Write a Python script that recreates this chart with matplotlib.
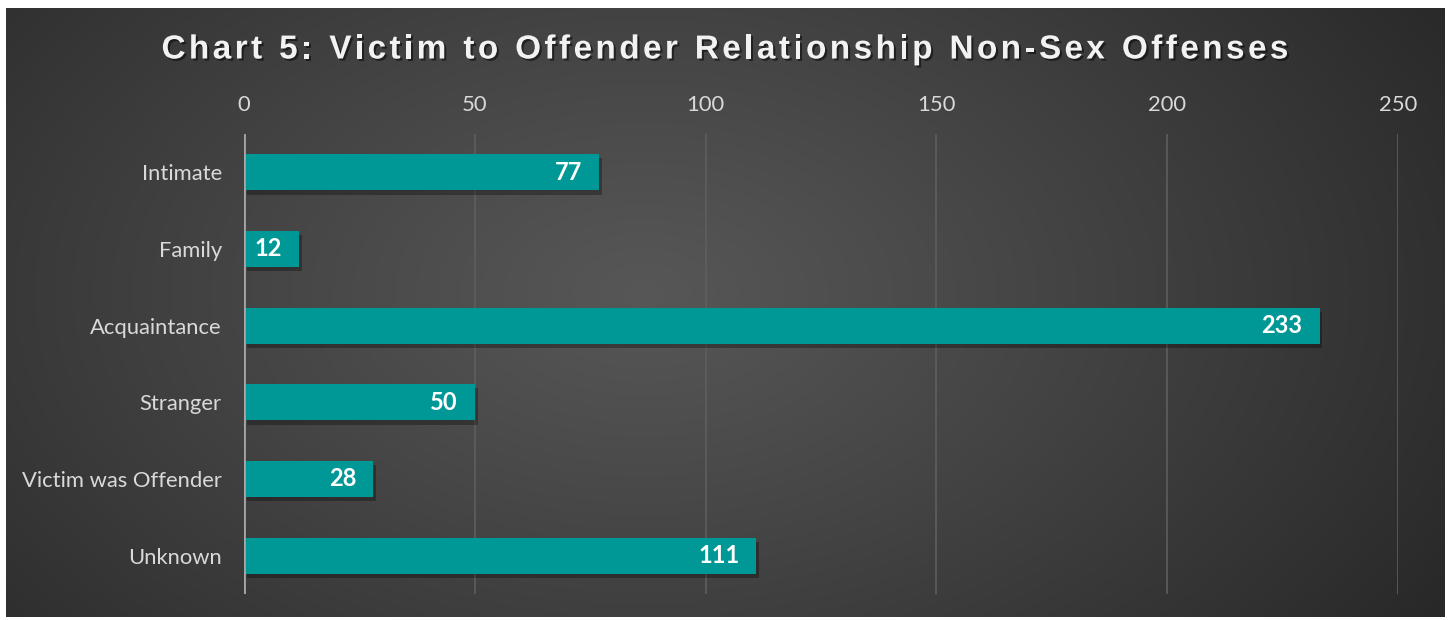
import numpy as np
import matplotlib
matplotlib.use("Agg")
import matplotlib.pyplot as plt
import matplotlib.patheffects as pe

categories = ["Intimate", "Family", "Acquaintance", "Stranger", "Victim was Offender", "Unknown"]
counts = [77, 12, 233, 50, 28, 111]
xticks = [0, 50, 100, 150, 200, 250]
title = "Chart 5: Victim to Offender Relationship Non-Sex Offenses"

W, H = 1449, 620
fig = plt.figure(figsize=(W / 100, H / 100), dpi=100)
fig.patch.set_facecolor("white")

# dark panel with radial gradient
bg = fig.add_axes([6 / W, 3 / H, 1439 / W, 609 / H])
bg.set_axis_off()
yy, xx = np.mgrid[0:300, 0:700]
cx, cy = 310, 140
d = np.sqrt(((xx - cx) / 500.0) ** 2 + ((yy - cy) / 320.0) ** 2)
d = np.clip(d, 0, 1)
lo, hi = 0.14, 0.34
v = hi - (hi - lo) * d ** 1.1
img = np.dstack([v, v, v])
bg.imshow(img, aspect="auto", extent=[0, 1, 0, 1], interpolation="bilinear")
bg.set_xlim(0, 1)
bg.set_ylim(0, 1)

ax = fig.add_axes([244 / W, 1 - 594 / H, 1154 / W, 460 / H])
ax.patch.set_alpha(0)
y = np.arange(len(categories))
bars = ax.barh(y, counts, height=0.47, color="#009896", zorder=3)
for b in bars:
    b.set_path_effects([pe.SimplePatchShadow(offset=(2, -3), shadow_rgbFace="black", alpha=0.3),
                        pe.Normal()])
ax.set_xlim(0, 250)
ax.set_ylim(len(categories) - 0.5, -0.5)
ax.set_xticks(xticks)
ax.set_yticks(y)
ax.set_yticklabels(categories)
ax.xaxis.tick_top()
ax.tick_params(axis="both", length=0, colors="#d9d9d9", labelsize=15.8)
ax.tick_params(axis="x", pad=14)
ax.tick_params(axis="y", pad=16)
for lab in ax.get_xticklabels() + ax.get_yticklabels():
    lab.set_family("Lato")
ax.grid(axis="x", color="#5e5e5e", linewidth=1.2, zorder=0)
for s in ax.spines.values():
    s.set_visible(False)
ax.axvline(0, color="#a6a6a6", linewidth=2, zorder=4)

for yi, c in zip(y, counts):
    ax.text(c - 3.7, yi, str(c), ha="right", va="center", color="white",
            fontsize=17, fontweight="bold", family="Lato", zorder=5)

# title with letter spacing
fig.canvas.draw()
r = fig.canvas.get_renderer()
fs = 24
sp = 3.35
widths = []
for ch in title:
    t = fig.text(0, 0, ch if ch != " " else "n", fontsize=fs, fontweight="bold",
                 family="Liberation Sans")
    w = t.get_window_extent(r).width
    if ch == " ":
        w *= 0.5
    widths.append(w)
    t.remove()
total = sum(widths) + sp * (len(title) - 1)
x0 = 725 - total / 2
for ch, w in zip(title, widths):
    if ch != " ":
        fig.text(x0 / W, 1 - 50 / H, ch, fontsize=fs, fontweight="bold",
                 family="Liberation Sans", color="#f2f2f2", va="center", ha="left",
                 path_effects=[pe.withSimplePatchShadow(offset=(1.5, -1.5),
                                                        shadow_rgbFace="black", alpha=0.5)])
    x0 += w + sp

fig.savefig("out.png", dpi=100, facecolor=fig.get_facecolor())
